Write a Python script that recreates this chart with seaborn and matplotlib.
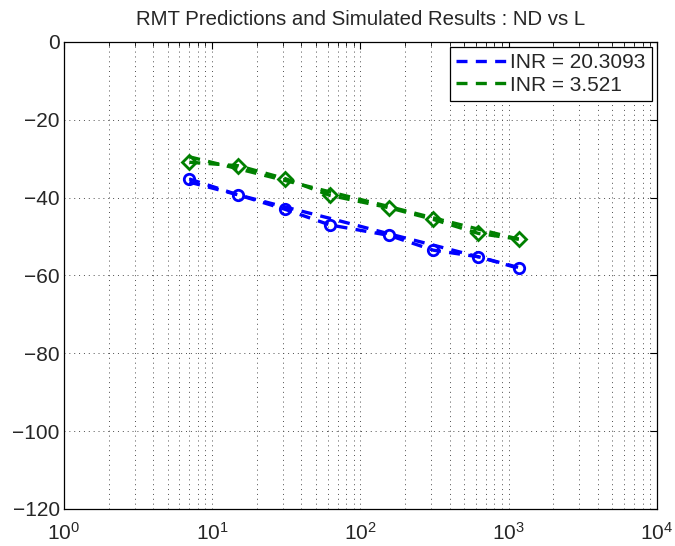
import numpy as np
import pandas as pd
import matplotlib
matplotlib.use("Agg")
import matplotlib.pyplot as plt
import seaborn as sns
from matplotlib.ticker import LogLocator, MultipleLocator

sns.set_style("white")
plt.rcParams['font.family'] = ['Liberation Sans', 'DejaVu Sans']
plt.rcParams['mathtext.fontset'] = 'custom'
plt.rcParams['mathtext.rm'] = 'Liberation Sans'

# Data
L_values = [7, 15, 31, 62, 156, 310, 625, 1180]
blue_pred = [-36.0, -39.3, -42.4, -45.3, -49.3, -52.2, -55.2, -58.0]
blue_sim = [-35.2, -39.3, -43.0, -47.0, -49.7, -53.5, -55.2, -58.2]
green_pred = [-29.5, -32.6, -35.6, -38.5, -42.3, -45.2, -48.1, -50.7]
green_sim = [-30.9, -31.8, -35.1, -39.4, -42.6, -45.6, -49.2, -50.7]
legend_labels = ["INR = 20.3093", "INR = 3.521"]
title = "RMT Predictions and Simulated Results : ND vs L"

BLUE = (0, 0, 1)
GREEN = (0, 0.5, 0)

fig = plt.figure(figsize=(6.75, 5.46), dpi=100)
ax = fig.add_axes([0.0948, 0.0678, 0.8785, 0.8553])
ax.set_xscale("log")

dash = (3.3, 2.5)
sns.lineplot(x=L_values, y=blue_pred, ax=ax, color=BLUE, lw=2.4,
             label=legend_labels[0])
sns.lineplot(x=L_values, y=green_pred, ax=ax, color=GREEN, lw=2.4,
             label=legend_labels[1])
sns.lineplot(x=L_values, y=blue_sim, ax=ax, color=BLUE, lw=2.4, marker='o',
             markersize=7.5, markerfacecolor='none', markeredgecolor=BLUE,
             markeredgewidth=2, legend=False)
sns.lineplot(x=L_values, y=green_sim, ax=ax, color=GREEN, lw=2.4, marker='D',
             markersize=7.3, markerfacecolor='none', markeredgecolor=GREEN,
             markeredgewidth=2, legend=False)
for ln in ax.get_lines():
    ln.set_linestyle((0, dash))

ax.set_xlim(1, 1e4)
ax.set_ylim(-120, 0)
ax.yaxis.set_major_locator(MultipleLocator(20))
ax.xaxis.set_major_locator(LogLocator(base=10, numticks=10))
ax.xaxis.set_minor_locator(LogLocator(base=10, subs=np.arange(2, 10), numticks=100))

ax.grid(which='major', axis='both', linestyle=(0, (1, 4)), color='0.3', lw=0.7)
ax.grid(which='minor', axis='x', linestyle=(0, (1, 4)), color='0.3', lw=0.7)

ax.tick_params(which='both', direction='in', top=True, right=True,
               labelsize=15, color='black')
ax.tick_params(axis='y', pad=3)
ax.tick_params(axis='x', pad=9)
ax.tick_params(which='major', length=5, width=0.8)
ax.tick_params(which='minor', length=3, width=0.6)
for s in ax.spines.values():
    s.set_color('black')
    s.set_linewidth(0.9)

ax.set_title(title, fontsize=14.7, pad=12)

leg = ax.legend(loc='upper right', fontsize=15, frameon=True, fancybox=False,
                edgecolor='black', framealpha=1, handlelength=2.4,
                borderaxespad=0.25, handletextpad=0.2, labelspacing=0.15,
                borderpad=0.3)
leg.get_frame().set_linewidth(0.9)
for h in leg.get_lines():
    h.set_linestyle((0, dash))
    h.set_linewidth(2.4)

fig.savefig("out.png", dpi=100)
